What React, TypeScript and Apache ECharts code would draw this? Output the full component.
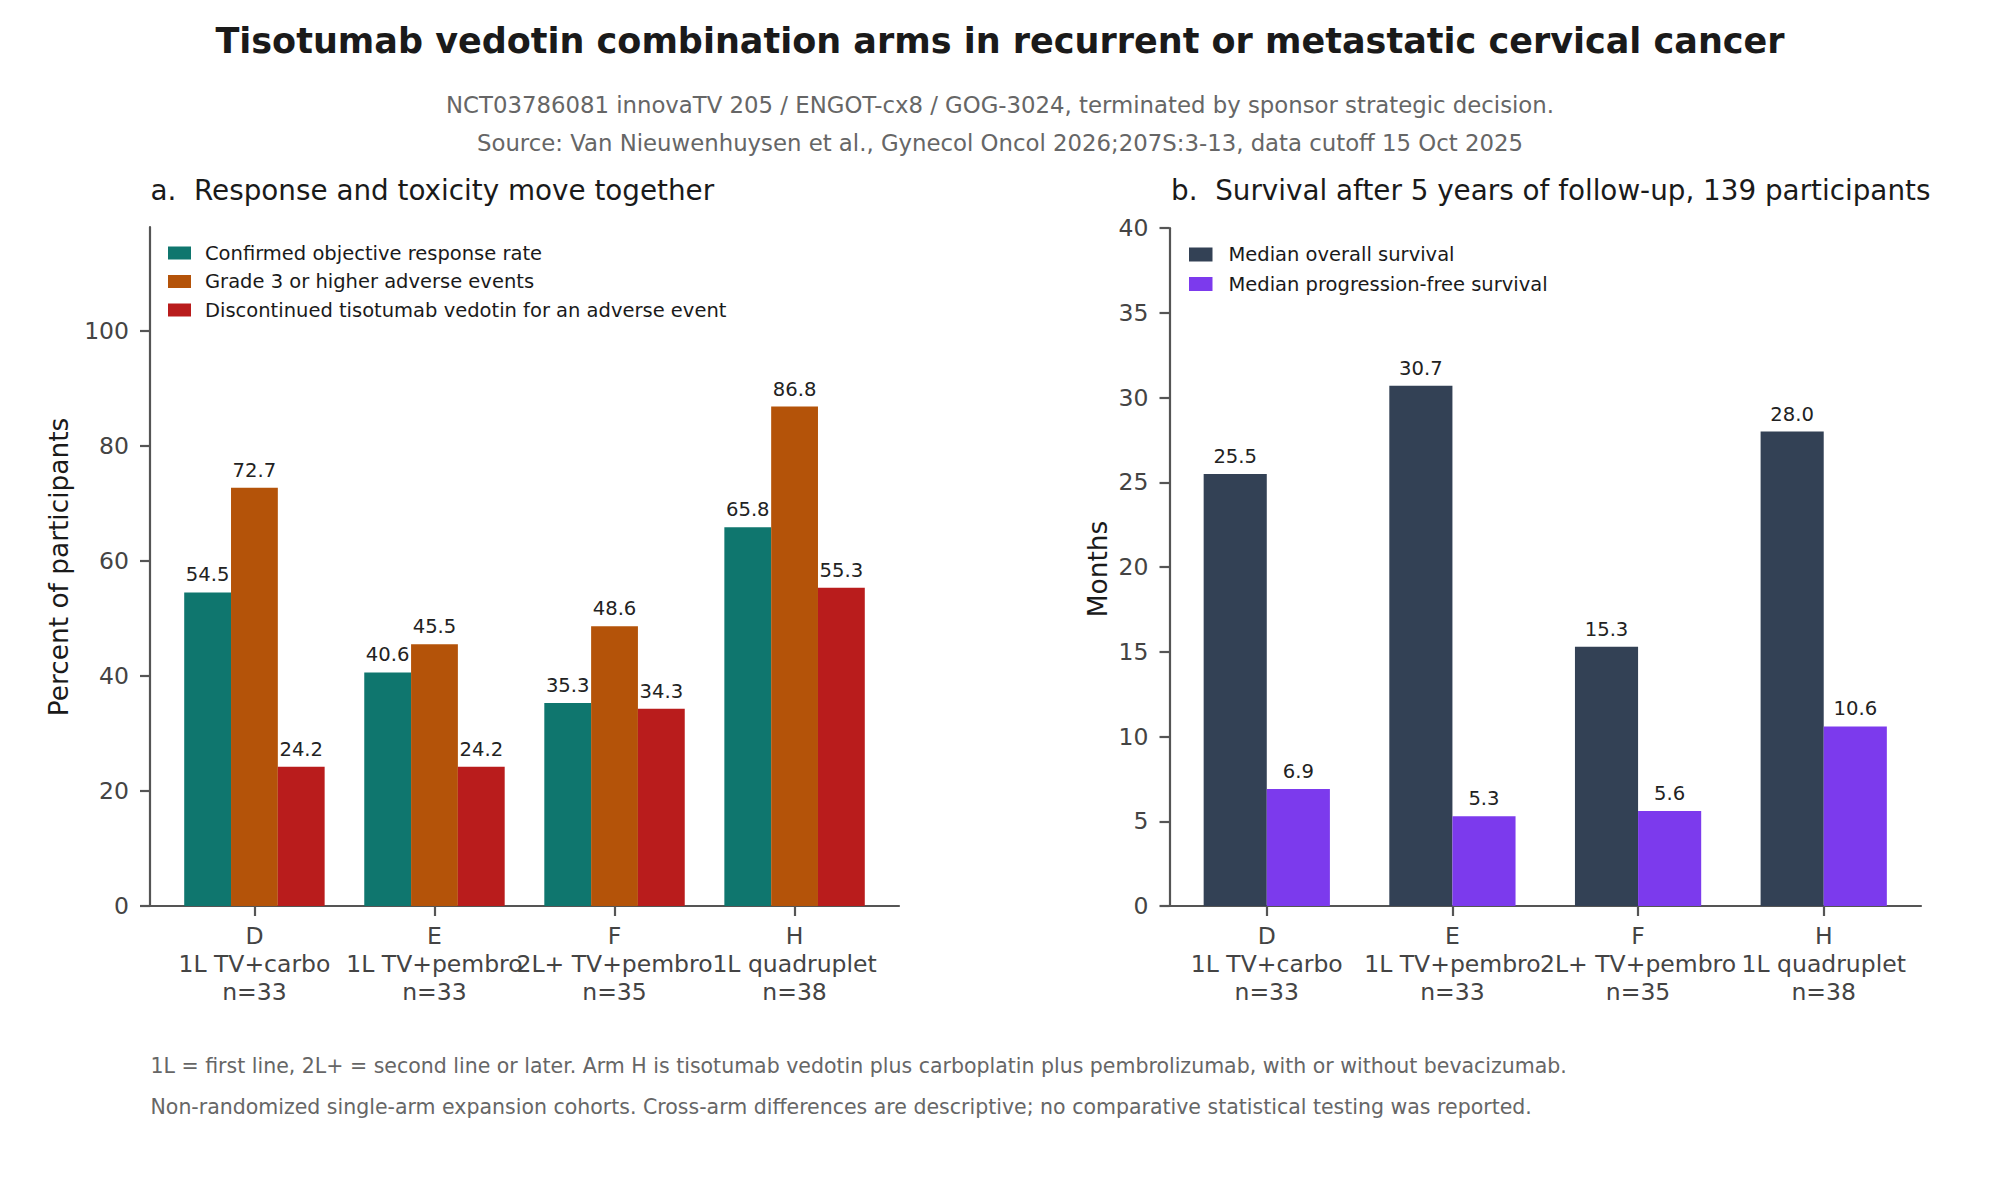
import React, { useEffect, useRef } from "react";
import * as echarts from "echarts";

const FONT = "DejaVu Sans";

const arms = ["D", "E", "F", "H"];
const regimens = ["1L TV+carbo", "1L TV+pembro", "2L+ TV+pembro", "1L quadruplet"];
const sizes = [33, 33, 35, 38];

const responseRate = [54.5, 40.6, 35.3, 65.8];
const grade3AE = [72.7, 45.5, 48.6, 86.8];
const discontinued = [24.2, 24.2, 34.3, 55.3];

const medianOS = [25.5, 30.7, 15.3, 28.0];
const medianPFS = [6.9, 5.3, 5.6, 10.6];

const leftTicks = [0, 20, 40, 60, 80, 100];
const catPositions = [0, 1, 2, 3];

const leftNames = [
  "Confirmed objective response rate",
  "Grade 3 or higher adverse events",
  "Discontinued tisotumab vedotin for an adverse event",
];
const rightNames = ["Median overall survival", "Median progression-free survival"];
const leftColors = ["#0f766e", "#b45309", "#b91c1c"];
const rightColors = ["#334155", "#7c3aed"];

function barSeries(
  name: string,
  values: number[],
  idx: number,
  n: number,
  w: number,
  axisIdx: number,
  color: string
) {
  return {
    type: "custom",
    name,
    xAxisIndex: axisIdx,
    yAxisIndex: axisIdx,
    itemStyle: { color },
    data: values.map((v, i) => [i, v]),
    encode: { x: 0, y: 1 },
    renderItem: (params: any, api: any) => {
      const x = api.value(0) as number;
      const y = api.value(1) as number;
      const off = (idx - (n - 1) / 2) * w;
      const tl = api.coord([x + off - w / 2, y]);
      const br = api.coord([x + off + w / 2, 0]);
      return {
        type: "group",
        children: [
          {
            type: "rect",
            shape: { x: tl[0], y: tl[1], width: br[0] - tl[0], height: br[1] - tl[1] },
            style: { fill: color },
          },
          {
            type: "text",
            x: (tl[0] + br[0]) / 2,
            y: tl[1] - 17.5,
            style: {
              text: y.toFixed(1),
              fill: "#222222",
              fontSize: 19.6,
              fontFamily: FONT,
              align: "center",
              verticalAlign: "middle",
            },
          },
        ],
      };
    },
  };
}

function catLabel(v: number) {
  const i = Math.round(v);
  return `${arms[i]}\n${regimens[i]}\nn=${sizes[i]}`;
}

const axisLineStyle = { color: "#555555", width: 2.2 };

function xAxisCfg(gridIndex: number, min: number, max: number) {
  return {
    type: "value",
    gridIndex,
    min,
    max,
    splitLine: { show: false },
    axisLine: { show: true, onZero: false, lineStyle: axisLineStyle },
    axisTick: { show: true, length: 10, lineStyle: axisLineStyle, customValues: catPositions },
    axisLabel: {
      show: true,
      customValues: catPositions,
      formatter: (v: number) => catLabel(v),
      fontSize: 23.5,
      lineHeight: 28.3,
      fontFamily: FONT,
      color: "#444444",
      margin: 15.4,
    },
  };
}

function textEl(text: string, x: number, y: number, size: number, color: string, align: string, extra: any = {}) {
  const { bold, ...rest } = extra;
  return {
    type: "text",
    x,
    y,
    ...rest,
    style: {
      text,
      fontSize: size,
      fontFamily: FONT,
      fill: color,
      align,
      textAlign: align,
      verticalAlign: "middle",
      textVerticalAlign: "middle",
      fontWeight: bold ? "bold" : "normal",
    },
  };
}

export default function App() {
  const ref = useRef<HTMLDivElement>(null);

  useEffect(() => {
    document.body.style.margin = "0";
    if (!ref.current) return;
    const chart = echarts.init(ref.current, undefined, { renderer: "svg" });

    const legendText = { fontSize: 19.5, fontFamily: FONT, color: "#1a1a1a", lineHeight: 20 };

    const option: any = {
      animation: false,
      backgroundColor: "#ffffff",
      grid: [
        { left: 150, right: 2000 - 899, top: 227, bottom: 1200 - 906, containLabel: false },
        { left: 1169.5, right: 2000 - 1921, top: 228.2, bottom: 1200 - 906, containLabel: false },
      ],
      xAxis: [xAxisCfg(0, -0.58, 3.58), xAxisCfg(1, -0.524, 3.524)],
      yAxis: [
        {
          type: "value",
          gridIndex: 0,
          min: 0,
          max: 118,
          interval: 20,
          splitLine: { show: false },
          axisLine: { show: true, onZero: false, lineStyle: axisLineStyle },
          axisTick: { show: true, length: 10, lineStyle: axisLineStyle, customValues: leftTicks },
          axisLabel: {
            customValues: leftTicks,
            fontSize: 23.5,
            fontFamily: FONT,
            color: "#444444",
            margin: 21,
          },
        },
        {
          type: "value",
          gridIndex: 1,
          min: 0,
          max: 40,
          interval: 5,
          splitLine: { show: false },
          axisLine: { show: true, onZero: false, lineStyle: axisLineStyle },
          axisTick: { show: true, length: 10, lineStyle: axisLineStyle },
          axisLabel: {
            fontSize: 23.5,
            fontFamily: FONT,
            color: "#444444",
            margin: 21,
          },
        },
      ],
      legend: [
        {
          orient: "vertical",
          left: 168,
          top: 243,
          padding: 0,
          icon: "rect",
          itemWidth: 23,
          itemHeight: 13,
          itemGap: 8.5,
          selectedMode: false,
          data: leftNames.map((n, i) => ({ name: n, itemStyle: { color: leftColors[i] } })),
          textStyle: { ...legendText, padding: [0, 0, 0, 9] },
        },
        {
          orient: "vertical",
          left: 1189,
          top: 244.5,
          padding: 0,
          icon: "rect",
          itemWidth: 23.5,
          itemHeight: 14,
          itemGap: 9.5,
          selectedMode: false,
          data: rightNames.map((n, i) => ({ name: n, itemStyle: { color: rightColors[i] } })),
          textStyle: { ...legendText, padding: [0, 0, 0, 11] },
        },
      ],
      series: [
        barSeries(leftNames[0], responseRate, 0, 3, 0.26, 0, leftColors[0]),
        barSeries(leftNames[1], grade3AE, 1, 3, 0.26, 0, leftColors[1]),
        barSeries(leftNames[2], discontinued, 2, 3, 0.26, 0, leftColors[2]),
        barSeries(rightNames[0], medianOS, 0, 2, 0.34, 1, rightColors[0]),
        barSeries(rightNames[1], medianPFS, 1, 2, 0.34, 1, rightColors[1]),
      ],
      graphic: [
        textEl(
          "Tisotumab vedotin combination arms in recurrent or metastatic cervical cancer",
          1000,
          40.5,
          35,
          "#1a1a1a",
          "center",
          { bold: true }
        ),
        textEl(
          "NCT03786081 innovaTV 205 / ENGOT-cx8 / GOG-3024, terminated by sponsor strategic decision.",
          1000,
          105.3,
          22.8,
          "#666666",
          "center"
        ),
        textEl(
          "Source: Van Nieuwenhuysen et al., Gynecol Oncol 2026;207S:3-13, data cutoff 15 Oct 2025",
          1000,
          143.2,
          22.8,
          "#666666",
          "center"
        ),
        textEl("a.  Response and toxicity move together", 150.5, 190, 27.8, "#1a1a1a", "left"),
        textEl("b.  Survival after 5 years of follow-up, 139 participants", 1171, 190, 27.8, "#1a1a1a", "left"),
        textEl("Percent of participants", 58.5, 567, 26.4, "#1a1a1a", "center", { rotation: Math.PI / 2 }),
        textEl("Months", 1097, 569, 26.4, "#1a1a1a", "center", { rotation: Math.PI / 2 }),
        textEl(
          "1L = first line, 2L+ = second line or later. Arm H is tisotumab vedotin plus carboplatin plus pembrolizumab, with or without bevacizumab.",
          150.5,
          1066,
          20.5,
          "#666666",
          "left"
        ),
        textEl(
          "Non-randomized single-arm expansion cohorts. Cross-arm differences are descriptive; no comparative statistical testing was reported.",
          150.5,
          1107,
          20.5,
          "#666666",
          "left"
        ),
      ],
    };

    chart.setOption(option);
    return () => chart.dispose();
  }, []);

  return <div ref={ref} style={{ width: 2000, height: 1200 }} />;
}
